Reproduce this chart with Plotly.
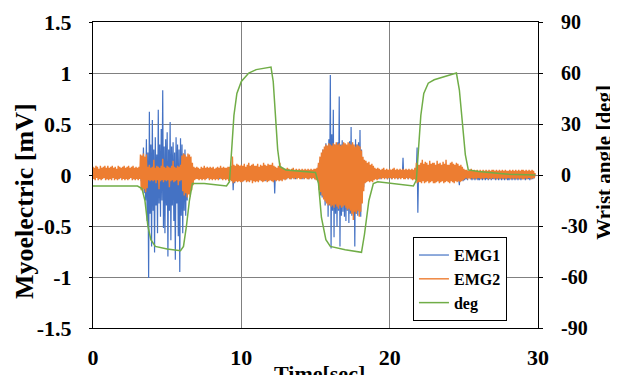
import plotly.graph_objects as go

# ---------------- data ----------------
EMG_DT = 0.05  # sample spacing [sec]

emg1_mv = [
    0.03,-0.03,0.02,-0.04,0.03,-0.02,0.04,-0.03,0.02,-0.03,0.03,-0.04,0.02,-0.02,0.04,-0.03,0.03,-0.02,0.02,-0.04,
    0.04,-0.02,0.03,-0.03,0.02,-0.04,0.03,-0.02,0.03,-0.03,0.02,-0.03,0.04,-0.02,0.03,-0.04,0.02,-0.03,0.03,-0.02,
    0.02,-0.03,0.04,-0.02,0.03,-0.03,0.02,-0.04,0.03,-0.02,0.04,-0.03,0.02,-0.03,0.03,-0.04,0.03,-0.02,0.02,-0.03,
    0.03,-0.04,0.02,-0.03,0.05,-0.06,0.12,-0.10,0.27,-0.18,0.15,-0.25,0.35,-0.45,0.22,-1.01,0.62,-0.38,0.30,-0.70,
    0.54,-0.35,0.25,-0.76,0.37,-0.30,0.20,-0.57,0.64,-0.28,0.30,-0.41,0.45,-0.25,0.83,-0.52,0.28,-0.57,0.35,-0.30,
    0.42,-0.80,0.25,-0.35,0.52,-0.64,0.28,-0.30,0.32,-0.45,0.22,-0.83,0.37,-0.28,0.30,-0.60,0.25,-0.95,0.36,-0.40,
    0.30,-0.57,0.21,-0.35,0.25,-0.40,0.18,-0.25,0.12,-0.18,0.10,-0.12,0.06,-0.08,0.04,-0.04,0.03,-0.03,0.02,-0.03,
    0.03,-0.02,0.04,-0.03,0.02,-0.03,0.03,-0.04,0.02,-0.02,0.03,-0.03,0.04,-0.02,0.03,-0.03,0.02,-0.04,0.03,-0.02,
    0.02,-0.04,0.03,-0.02,0.04,-0.03,0.02,-0.03,0.03,-0.02,0.02,-0.04,0.03,-0.03,0.04,-0.02,0.03,-0.03,0.02,-0.04,
    0.03,-0.02,0.04,-0.03,0.02,-0.03,0.03,-0.04,0.08,-0.15,0.06,-0.08,0.05,-0.04,0.05,-0.06,0.04,-0.05,0.06,-0.04,
    0.04,-0.05,0.05,-0.06,0.03,-0.04,0.05,-0.05,0.04,-0.06,0.05,-0.04,0.03,-0.05,0.06,-0.04,0.04,-0.05,0.05,-0.06,
    0.05,-0.04,0.04,-0.06,0.03,-0.05,0.05,-0.04,0.04,-0.05,0.06,-0.04,0.03,-0.06,0.05,-0.05,0.04,-0.04,0.05,-0.05,
    0.04,-0.05,0.05,-0.04,0.03,-0.18,0.04,-0.05,0.03,-0.04,0.05,-0.04,0.03,-0.05,0.04,-0.03,0.03,-0.04,0.03,-0.03,
    0.03,-0.04,0.02,-0.03,0.04,-0.03,0.02,-0.04,0.03,-0.03,0.02,-0.03,0.03,-0.04,0.02,-0.03,0.04,-0.02,0.03,-0.03,
    0.02,-0.03,0.03,-0.04,0.03,-0.02,0.04,-0.03,0.02,-0.03,0.03,-0.04,0.02,-0.03,0.03,-0.02,0.04,-0.03,0.03,-0.04,
    0.03,-0.04,0.02,-0.03,0.10,-0.12,0.15,-0.20,0.18,-0.22,0.25,-0.18,0.22,-0.30,0.31,-0.25,0.28,-0.41,0.35,-0.30,
    0.98,-0.72,0.40,-0.35,0.64,-0.61,0.30,-0.38,0.29,-0.51,0.32,-0.35,0.77,-0.70,0.30,-0.40,0.34,-0.36,0.28,-0.41,
    0.30,-0.45,0.28,-0.35,0.26,-0.47,0.33,-0.38,0.47,-0.40,0.30,-0.36,0.26,-0.70,0.35,-0.38,0.30,-0.40,0.32,-0.36,
    0.44,-0.41,0.25,-0.20,0.15,-0.12,0.08,-0.07,0.06,-0.05,0.04,-0.04,0.03,-0.03,0.04,-0.02,0.03,-0.03,0.02,-0.04,
    0.03,-0.03,0.04,-0.02,0.03,-0.03,0.02,-0.04,0.03,-0.02,0.03,-0.03,0.04,-0.02,0.02,-0.03,0.03,-0.04,0.02,-0.03,
    0.03,-0.03,0.02,-0.04,0.03,-0.02,0.04,-0.03,0.02,-0.03,0.03,-0.04,0.02,-0.03,0.03,-0.02,0.04,-0.03,0.17,-0.03,
    0.03,-0.02,0.04,-0.03,0.02,-0.04,0.03,-0.03,0.02,-0.03,0.03,-0.04,0.02,-0.03,0.04,-0.03,0.05,0.27,-0.37,0.06,
    0.05,-0.06,0.04,-0.05,0.06,-0.04,0.05,-0.06,0.04,-0.05,0.06,-0.05,0.04,-0.06,0.05,-0.04,0.06,-0.05,0.04,-0.06,
    0.05,-0.04,0.06,-0.05,0.04,-0.06,0.05,-0.04,0.06,-0.05,0.04,-0.05,0.06,-0.04,0.05,-0.06,0.04,-0.05,0.06,-0.04,
    0.04,-0.06,0.05,-0.04,0.06,-0.05,0.04,-0.06,0.05,-0.04,0.06,-0.05,0.04,-0.06,-0.10,0.04,0.05,-0.05,0.04,-0.06,
    0.04,-0.05,0.03,-0.04,0.03,-0.05,0.04,-0.03,0.03,-0.04,0.02,-0.05,0.03,-0.04,0.04,-0.05,0.03,-0.04,0.02,-0.05,
    0.02,-0.05,0.03,-0.04,0.02,-0.05,0.03,-0.04,0.02,-0.05,0.03,-0.04,0.02,-0.05,0.03,-0.04,0.02,-0.05,0.03,-0.04,
    0.03,-0.04,0.02,-0.05,0.03,-0.04,0.02,-0.05,0.03,-0.04,0.02,-0.05,0.03,-0.04,0.02,-0.05,0.03,-0.04,0.02,-0.05,
    0.02,-0.05,0.03,-0.04,0.02,-0.05,0.03,-0.04,0.02,-0.05,0.03,-0.04,0.02,-0.05,0.03,-0.04,0.02,-0.05,0.03,-0.04,
    0.03,-0.04,0.02,-0.05,0.03,-0.04,0.02,-0.04,0.03,-0.05,0.02,-0.04,0.03,-0.04,0.02,-0.03,0.01,
]

emg2_mv = [
    0.08,-0.04,0.07,-0.05,0.09,-0.03,0.08,-0.05,0.06,-0.04,0.09,-0.05,0.07,-0.04,0.08,-0.03,0.09,-0.05,0.07,-0.04,
    0.09,-0.05,0.07,-0.04,0.08,-0.05,0.09,-0.03,0.07,-0.05,0.08,-0.04,0.06,-0.05,0.09,-0.04,0.08,-0.03,0.07,-0.05,
    0.08,-0.04,0.09,-0.05,0.07,-0.04,0.08,-0.05,0.09,-0.04,0.07,-0.03,0.08,-0.05,0.09,-0.04,0.07,-0.05,0.08,-0.04,
    0.07,-0.05,0.08,-0.04,0.20,-0.15,0.19,-0.16,0.21,-0.14,0.18,-0.17,0.20,-0.13,0.08,-0.05,0.10,-0.06,0.07,-0.05,
    0.08,-0.06,0.15,-0.05,0.07,-0.08,0.09,-0.05,0.08,-0.14,0.07,-0.06,0.09,-0.05,0.16,-0.07,0.08,-0.05,0.07,-0.06,
    0.09,-0.05,0.08,-0.12,0.07,-0.06,0.09,-0.05,0.14,-0.07,0.08,-0.06,0.07,-0.05,0.09,-0.10,0.08,-0.06,0.10,-0.05,
    0.19,-0.16,0.21,-0.20,0.20,-0.18,0.18,-0.22,0.21,-0.19,0.20,-0.21,0.18,-0.15,0.12,-0.10,0.08,-0.05,0.07,-0.04,
    0.08,-0.04,0.07,-0.05,0.06,-0.04,0.08,-0.05,0.07,-0.04,0.09,-0.05,0.07,-0.04,0.08,-0.03,0.07,-0.05,0.08,-0.04,
    0.07,-0.05,0.08,-0.04,0.06,-0.05,0.07,-0.04,0.08,-0.05,0.07,-0.03,0.09,-0.04,0.07,-0.05,0.08,-0.04,0.07,-0.05,
    0.07,-0.04,0.08,-0.06,0.08,-0.05,0.09,-0.06,0.18,-0.08,0.10,-0.07,0.09,-0.06,0.11,-0.07,0.10,-0.06,0.09,-0.07,
    0.10,-0.07,0.09,-0.06,0.11,-0.05,0.08,-0.07,0.10,-0.06,0.12,-0.07,0.09,-0.05,0.10,-0.08,0.11,-0.06,0.09,-0.07,
    0.09,-0.06,0.11,-0.07,0.08,-0.05,0.10,-0.06,0.09,-0.07,0.12,-0.06,0.10,-0.05,0.09,-0.07,0.11,-0.06,0.10,-0.05,
    0.10,-0.06,0.12,-0.07,0.09,-0.05,0.08,-0.06,0.07,-0.05,0.09,-0.06,0.12,-0.05,0.08,-0.06,0.07,-0.04,0.06,-0.05,
    0.06,-0.04,0.07,-0.03,0.06,-0.04,0.05,-0.04,0.06,-0.03,0.07,-0.04,0.05,-0.03,0.06,-0.04,0.05,-0.03,0.06,-0.04,
    0.05,-0.04,0.06,-0.03,0.05,-0.04,0.06,-0.03,0.05,-0.04,0.06,-0.04,0.05,-0.03,0.06,-0.04,0.05,-0.03,0.06,-0.04,
    0.06,-0.05,0.07,-0.06,0.12,-0.15,0.18,-0.17,0.22,-0.20,0.25,-0.24,0.28,-0.26,0.30,-0.28,0.29,-0.30,0.31,-0.29,
    0.30,-0.31,0.29,-0.30,0.31,-0.32,0.30,-0.29,0.32,-0.31,0.30,-0.33,0.31,-0.30,0.29,-0.32,0.30,-0.31,0.32,-0.30,
    0.31,-0.32,0.30,-0.34,0.32,-0.33,0.31,-0.35,0.30,-0.38,0.32,-0.44,0.30,-0.36,0.28,-0.38,0.30,-0.35,0.29,-0.41,
    0.28,-0.36,0.24,-0.28,0.18,-0.16,0.15,-0.08,0.14,-0.07,0.12,-0.06,0.13,-0.07,0.10,-0.06,0.11,-0.07,0.09,-0.05,
    0.07,-0.04,0.06,-0.05,0.07,-0.04,0.06,-0.03,0.05,-0.04,0.06,-0.03,0.07,-0.04,0.05,-0.03,0.06,-0.04,0.05,-0.03,
    0.06,-0.03,0.05,-0.04,0.06,-0.03,0.07,-0.04,0.05,-0.03,0.06,-0.04,0.05,-0.03,0.06,-0.04,0.05,-0.03,0.06,-0.04,
    0.05,-0.04,0.06,-0.03,0.05,-0.04,0.06,-0.03,0.05,-0.04,0.06,-0.05,0.05,-0.04,0.07,-0.05,0.12,-0.08,0.10,-0.07,
    0.10,-0.07,0.12,-0.08,0.15,-0.06,0.11,-0.08,0.13,-0.07,0.12,-0.06,0.10,-0.08,0.14,-0.07,0.11,-0.06,0.12,-0.08,
    0.12,-0.08,0.10,-0.07,0.14,-0.06,0.11,-0.08,0.12,-0.07,0.10,-0.06,0.13,-0.08,0.11,-0.07,0.15,-0.06,0.10,-0.07,
    0.10,-0.08,0.12,-0.06,0.13,-0.07,0.11,-0.08,0.10,-0.06,0.12,-0.07,0.11,-0.06,0.09,-0.07,0.10,-0.06,0.08,-0.05,
    0.06,-0.04,0.05,-0.03,0.05,-0.04,0.04,-0.03,0.05,-0.04,0.06,-0.03,0.04,-0.04,0.05,-0.03,0.04,-0.04,0.05,-0.03,
    0.04,-0.03,0.05,-0.04,0.04,-0.03,0.05,-0.04,0.04,-0.03,0.05,-0.03,0.04,-0.04,0.05,-0.03,0.04,-0.04,0.05,-0.03,
    0.05,-0.04,0.04,-0.03,0.05,-0.04,0.04,-0.03,0.05,-0.04,0.04,-0.03,0.05,-0.04,0.04,-0.03,0.05,-0.04,0.04,-0.03,
    0.04,-0.03,0.05,-0.04,0.04,-0.03,0.05,-0.04,0.04,-0.03,0.05,-0.04,0.04,-0.03,0.05,-0.04,0.04,-0.03,0.05,-0.04,
    0.05,-0.04,0.04,-0.03,0.05,-0.04,0.04,-0.03,0.05,-0.03,0.04,-0.04,0.05,-0.03,0.04,-0.03,0.02,
]

deg_time = [0, 3.0, 3.3, 3.5, 3.7, 3.9, 4.2, 5.0, 5.9, 6.1, 6.3, 6.5, 6.7, 7.5,
            9.0, 9.2, 9.35, 9.5, 9.7, 10.0, 10.5, 11.0, 12.0, 12.15, 12.3, 12.45,
            12.6, 13.0, 15.0, 15.2, 15.4, 15.7, 16.0, 17.0, 18.1, 18.3, 18.6, 18.9,
            19.2, 21.6, 21.8, 21.95, 22.1, 22.3, 22.6, 23.0, 24.0, 24.5, 24.7, 24.9,
            25.1, 25.3, 26.0, 28.0, 29.8]
deg_value = [-6.5, -6.5, -8, -15, -30, -38, -42, -43.5, -44.5, -42, -30, -15, -5, -5,
             -6.5, -4, 15, 35, 48, 55, 60, 62, 63.5, 55, 35, 15,
             5, 3, 1.5, -5, -25, -38, -42, -44, -45.5, -35, -15, -5,
             -4, -6.5, -3, 15, 35, 48, 54, 56, 58.5, 60, 50, 30,
             12, 3, 2, 0.5, 0]

series_names = ["EMG1", "EMG2", "deg"]
x_ticks = [0, 10, 20, 30]
y_left_ticks = [-1.5, -1, -0.5, 0, 0.5, 1, 1.5]
y_left_labels = ["-1.5", "-1", "-0.5", "0", "0.5", "1", "1.5"]
y_right_ticks = [-90, -60, -30, 0, 30, 60, 90]

emg1_time = [round(i * EMG_DT, 2) for i in range(len(emg1_mv))]
emg2_time = [round(i * EMG_DT, 2) for i in range(len(emg2_mv))]

# ---------------- figure ----------------
# The page body keeps its default 8px margin, so the figure is 8px smaller
# than the 618x375 window and all offsets are measured from (8, 8).
FONT = "Liberation Serif, Times New Roman, serif"
fig = go.Figure()
fig.add_trace(go.Scatter(x=emg1_time, y=emg1_mv, name="<b>%s</b>" % series_names[0],
                         mode="lines", line=dict(color="#4472C4", width=1.2)))
fig.add_trace(go.Scatter(x=emg2_time, y=emg2_mv, name="<b>%s</b>" % series_names[1],
                         mode="lines", line=dict(color="#ED7D31", width=1.4)))
fig.add_trace(go.Scatter(x=deg_time, y=deg_value, name="<b>%s</b>" % series_names[2],
                         mode="lines", yaxis="y2", line=dict(color="#70AD47", width=1.5)))

fig.update_layout(
    template="none",
    width=610, height=367,
    margin=dict(l=85, r=80, t=14, b=47, pad=0),
    paper_bgcolor="white", plot_bgcolor="white",
    font=dict(family=FONT, color="black", weight="bold"),
    showlegend=True,
    legend=dict(x=0.719, y=0.297, xanchor="left", yanchor="top",
                bgcolor="white", bordercolor="black", borderwidth=1,
                font=dict(family=FONT, size=16, color="black", weight="bold"),
                tracegroupgap=0, itemwidth=30),
    xaxis=dict(range=[0, 30], tickvals=x_ticks, ticktext=[str(v) for v in x_ticks],
               automargin=False,
               showgrid=True, gridcolor="#808080", gridwidth=1,
               showline=True, linecolor="black", linewidth=1, mirror=True,
               zeroline=False, ticks="", ticklabelstandoff=10,
               tickfont=dict(family=FONT, size=22, color="black", weight="bold")),
    yaxis=dict(range=[-1.5, 1.5], tickvals=y_left_ticks, ticktext=y_left_labels,
               automargin=False,
               showgrid=True, gridcolor="#808080", gridwidth=1,
               showline=True, linecolor="black", linewidth=1, mirror=True,
               zeroline=False, ticks="outside", ticklen=3, tickcolor="black",
               ticklabelstandoff=13,
               tickfont=dict(family=FONT, size=22, color="black", weight="bold")),
    yaxis2=dict(range=[-90, 90], tickvals=y_right_ticks,
                ticktext=[str(v) for v in y_right_ticks],
                automargin=False,
                overlaying="y", side="right", showgrid=False, zeroline=False,
                showline=True, linecolor="black", linewidth=1,
                ticks="outside", ticklen=4, tickcolor="black", ticklabelstandoff=14,
                tickfont=dict(family=FONT, size=20, color="black", weight="bold")),
    annotations=[
        dict(text="Myoelectric [mV]", xref="paper", yref="paper", x=-0.155, y=0.415,
             textangle=-90, showarrow=False, xanchor="center", yanchor="middle",
             font=dict(family=FONT, size=26, color="black", weight="bold")),
        dict(text="Wrist angle [deg]", xref="paper", yref="paper", x=1.148, y=0.5425,
             textangle=-90, showarrow=False, xanchor="center", yanchor="middle",
             font=dict(family=FONT, size=21, color="black", weight="bold")),
        dict(text="Time[sec]", xref="paper", yref="paper", x=0.51, y=-0.15,
             showarrow=False, xanchor="center", yanchor="middle",
             font=dict(family=FONT, size=22, color="black", weight="bold")),
    ],
)

fig.write_html("out.html")
